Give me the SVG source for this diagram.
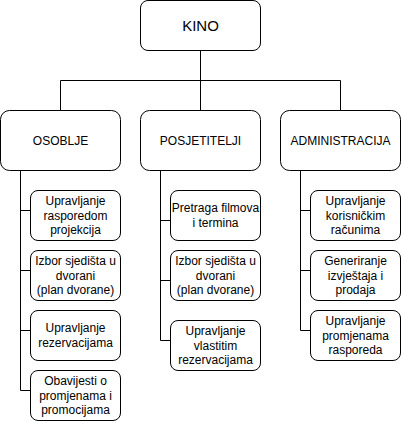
<svg xmlns="http://www.w3.org/2000/svg" width="401" height="421" viewBox="0 0 401 421">
<style>
.box{fill:#ffffff;stroke:#000000;stroke-width:1}
.edge{fill:none;stroke:#000000;stroke-width:1}
text{font-family:"Liberation Sans",Arial,Helvetica,sans-serif;font-size:12px;fill:#000000;text-anchor:middle}
.big{font-size:15px}
</style>
<rect width="401" height="421" fill="#ffffff"/>
<g id="connectors">
<path class="edge" d="M200.5 50.5V80.5M60.5 110.5V80.5H340.5V110.5M200.5 80.5V110.5"/>
<path class="edge" d="M20.5 170.5V390.5M20.5 210.5H30.5M20.5 270.5H30.5M20.5 330.5H30.5M20.5 390.5H30.5"/>
<path class="edge" d="M160.5 170.5V340.5M160.5 220.5H170.5M160.5 280.5H170.5M160.5 340.5H170.5"/>
<path class="edge" d="M300.5 170.5V330.5M300.5 210.5H310.5M300.5 270.5H310.5M300.5 330.5H310.5"/>
</g>
<g id="kino"><rect class="box" x="140.5" y="0.5" width="120" height="50" rx="7.5"/><text class="big" x="200.5" y="30.5">KINO</text></g>
<g id="osoblje"><rect class="box" x="0.5" y="110.5" width="120" height="60" rx="9"/><text x="60.5" y="144.5">OSOBLJE</text></g>
<g id="posjetitelji"><rect class="box" x="140.5" y="110.5" width="120" height="60" rx="9"/><text x="200.5" y="144.5">POSJETITELJI</text></g>
<g id="administracija"><rect class="box" x="280.5" y="110.5" width="120" height="60" rx="9"/><text x="340.5" y="144.5">ADMINISTRACIJA</text></g>

<g id="o1"><rect class="box" x="30.5" y="190.5" width="90" height="50" rx="7.5"/><text x="75.5" y="205"><tspan x="75.5" dy="0">Upravljanje</tspan><tspan x="75.5" dy="14.5">rasporedom</tspan><tspan x="75.5" dy="14.5">projekcija</tspan></text></g>
<g id="o2"><rect class="box" x="30.5" y="250.5" width="90" height="50" rx="7.5"/><text x="75.5" y="265"><tspan x="75.5" dy="0">Izbor sjedišta u</tspan><tspan x="75.5" dy="14.5">dvorani</tspan><tspan x="75.5" dy="14.5">(plan dvorane)</tspan></text></g>
<g id="o3"><rect class="box" x="30.5" y="310.5" width="90" height="50" rx="7.5"/><text x="75.5" y="332.2"><tspan x="75.5" dy="0">Upravljanje</tspan><tspan x="75.5" dy="14.5">rezervacijama</tspan></text></g>
<g id="o4"><rect class="box" x="30.5" y="370.5" width="90" height="50" rx="7.5"/><text x="75.5" y="385"><tspan x="75.5" dy="0">Obavijesti o</tspan><tspan x="75.5" dy="14.5">promjenama i</tspan><tspan x="75.5" dy="14.5">promocijama</tspan></text></g>

<g id="p1"><rect class="box" x="170.5" y="190.5" width="90" height="50" rx="7.5"/><text x="215.5" y="212.2"><tspan x="215.5" dy="0">Pretraga filmova</tspan><tspan x="215.5" dy="14.5">i termina</tspan></text></g>
<g id="p2"><rect class="box" x="170.5" y="250.5" width="90" height="50" rx="7.5"/><text x="215.5" y="265"><tspan x="215.5" dy="0">Izbor sjedišta u</tspan><tspan x="215.5" dy="14.5">dvorani</tspan><tspan x="215.5" dy="14.5">(plan dvorane)</tspan></text></g>
<g id="p3"><rect class="box" x="170.5" y="320.5" width="90" height="50" rx="7.5"/><text x="215.5" y="335"><tspan x="215.5" dy="0">Upravljanje</tspan><tspan x="215.5" dy="14.5">vlastitim</tspan><tspan x="215.5" dy="14.5">rezervacijama</tspan></text></g>

<g id="a1"><rect class="box" x="310.5" y="190.5" width="90" height="50" rx="7.5"/><text x="355.5" y="205"><tspan x="355.5" dy="0">Upravljanje</tspan><tspan x="355.5" dy="14.5">korisničkim</tspan><tspan x="355.5" dy="14.5">računima</tspan></text></g>
<g id="a2"><rect class="box" x="310.5" y="250.5" width="90" height="50" rx="7.5"/><text x="355.5" y="265"><tspan x="355.5" dy="0">Generiranje</tspan><tspan x="355.5" dy="14.5">izvještaja i</tspan><tspan x="355.5" dy="14.5">prodaja</tspan></text></g>
<g id="a3"><rect class="box" x="310.5" y="310.5" width="90" height="50" rx="7.5"/><text x="355.5" y="325"><tspan x="355.5" dy="0">Upravljanje</tspan><tspan x="355.5" dy="14.5">promjenama</tspan><tspan x="355.5" dy="14.5">rasporeda</tspan></text></g>
</svg>
